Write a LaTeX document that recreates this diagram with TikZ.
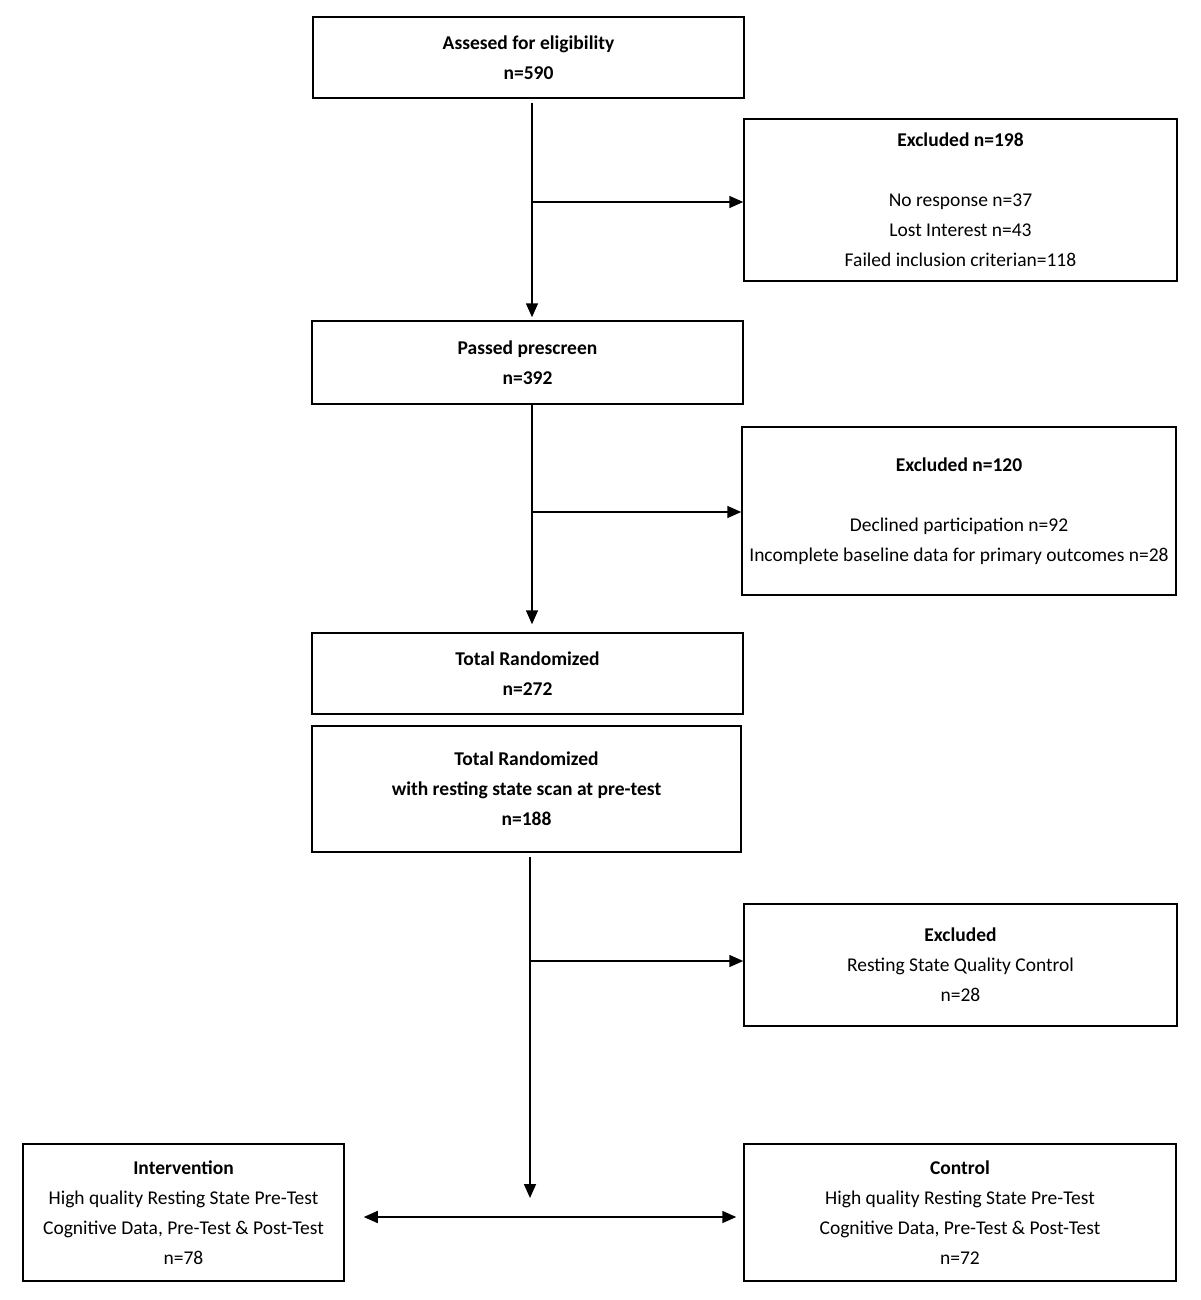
\documentclass[tikz,border=0pt]{standalone}
\usepackage{fontspec}
\setmainfont{Carlito}
\usetikzlibrary{arrows.meta}
\begin{document}
\begin{tikzpicture}[x=1pt,y=-1pt,
  box/.style={draw, line width=1.5pt, inner sep=0pt, align=center,
    font=\fontsize{19.5}{30}\selectfont},
  arr/.style={line width=1.6pt, -{Triangle[length=14pt,width=12pt]}},
  arrb/.style={line width=1.6pt, {Triangle[length=14pt,width=12pt]}-{Triangle[length=14pt,width=12pt]}}]
\useasboundingbox[fill=white] (0,0) rectangle (1200,1300);
\node[box, minimum width=431, minimum height=81] (a) at (528.5,57.5) {\textbf{Assesed for eligibility}\\\textbf{n=590}};
\node[box, minimum width=433, minimum height=162] (ex1) at (960.5,200) {\textbf{Excluded n=198}\\[30pt]No response n=37\\Lost Interest n=43\\Failed inclusion criterian=118};
\node[box, minimum width=431, minimum height=83] (b) at (527.5,362.5) {\textbf{Passed prescreen}\\\textbf{n=392}};
\node[box, minimum width=434, minimum height=168] (ex2) at (959,511) {\textbf{Excluded n=120}\\[30pt]Declined participation n=92\\Incomplete baseline data for primary outcomes n=28};
\node[box, minimum width=431, minimum height=81] (c) at (527.5,673.5) {\textbf{Total Randomized}\\\textbf{n=272}};
\node[box, minimum width=429, minimum height=126] (d) at (526.5,789) {\textbf{Total Randomized}\\\textbf{with resting state scan at pre-test}\\\textbf{n=188}};
\node[box, minimum width=433, minimum height=122] (ex3) at (960.5,965) {\textbf{Excluded}\\Resting State Quality Control\\n=28};
\node[box, minimum width=321, minimum height=137] (int) at (183.5,1212.5) {\textbf{Intervention}\\High quality Resting State Pre-Test\\Cognitive Data, Pre-Test \& Post-Test\\n=78};
\node[box, minimum width=432, minimum height=137] (ctl) at (960,1212.5) {\textbf{Control}\\High quality Resting State Pre-Test\\Cognitive Data, Pre-Test \& Post-Test\\n=72};
\coordinate (v1) at (532,202);
\coordinate (v2) at (532,512);
\coordinate (v3) at (530,961);
\coordinate (split) at (530,1198);
\coordinate (h) at (530,1217);
\draw[arr] ([yshift=-4]a.south -| v1) -- ([yshift=3]b.north -| v1);
\draw[arr] (v1) -- (ex1.west |- v1);
\draw[arr] (b.south -| v2) -- ([yshift=8]c.north -| v2);
\draw[arr] (v2) -- (ex2.west |- v2);
\draw[arr] ([yshift=-4]d.south -| v3) -- (split);
\draw[arr] (v3) -- (ex3.west |- v3);
\draw[arrb] ([xshift=19]int.east |- h) -- ([xshift=-7]ctl.west |- h);
\end{tikzpicture}
\end{document}
